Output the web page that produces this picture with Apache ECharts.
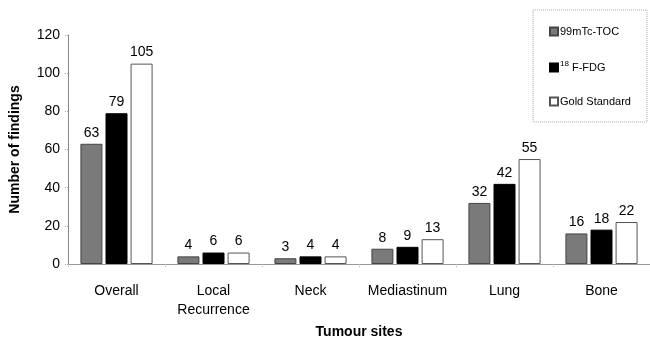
<!DOCTYPE html>
<html><head><meta charset="utf-8">
<script src="https://cdn.jsdelivr.net/npm/echarts@6/dist/echarts.min.js"></script>
<style>html,body{margin:0;padding:0;background:#fff}#c{width:650px;height:344px}</style>
</head><body><div id="c"></div>
<script>
const categories = ['Overall', 'Local\nRecurrence', 'Neck', 'Mediastinum', 'Lung', 'Bone'];
const seriesNames = ['99mTc-TOC', '18F-FDG', 'Gold Standard'];
const tocValues = [63, 4, 3, 8, 32, 16];
const fdgValues = [79, 6, 4, 9, 42, 18];
const goldValues = [105, 6, 4, 13, 55, 22];
const yTicks = [0, 20, 40, 60, 80, 100, 120];

const font = 'Arial, "Liberation Sans", sans-serif';
const chart = echarts.init(document.getElementById('c'), null, {renderer: 'canvas'});
const labelCfg = {show: true, position: 'top', distance: 4, color: '#000', fontSize: 14, fontFamily: font};
chart.setOption({
  animation: false,
  backgroundColor: '#fff',
  grid: {left: 68, top: 35, width: 586, bottom: 80, containLabel: false},
  legend: {
    orient: 'vertical', left: 533, top: 10,
    width: 100,
    padding: [16, 16, 15, 16],
    borderColor: '#aaa', borderWidth: 1, borderType: 'dotted',
    itemWidth: 8, itemHeight: 8, itemGap: 23,
    icon: 'rect',
    data: seriesNames,
    formatter: function (n) { return n === '18F-FDG' ? '{sup|18} {t|F-FDG}' : '{t|' + n + '}'; },
    textStyle: {
      color: '#000', fontFamily: font, fontSize: 11, padding: [0,0,0,-3],
      rich: {
        t: {fontSize: 11, fontFamily: font, color: '#000'},
        sup: {fontSize: 8, fontFamily: font, color: '#000', padding: [0,0,7,0]}
      }
    }
  },
  xAxis: {
    type: 'category', data: categories,
    name: 'Tumour sites', nameLocation: 'middle', nameGap: 61,
    nameTextStyle: {fontSize: 14, fontWeight: 'bold', fontFamily: font, color: '#000'},
    axisLine: {lineStyle: {color: '#999', width: 1}},
    axisTick: {show: true, length: 3, lineStyle: {color: '#aaa', type: 'dotted'}},
    axisLabel: {color: '#000', fontSize: 14, fontFamily: font, margin: 18, lineHeight: 19, interval: 0}
  },
  yAxis: {
    type: 'value', min: yTicks[0], max: yTicks[yTicks.length - 1], interval: 20,
    name: 'Number of findings', nameLocation: 'middle', nameGap: 46, nameRotate: 90,
    nameTextStyle: {fontSize: 14, fontWeight: 'bold', fontFamily: font, color: '#000'},
    axisLine: {show: true, lineStyle: {color: '#888', width: 1}},
    axisTick: {show: true, length: 3, lineStyle: {color: '#aaa', type: 'dotted'}},
    splitLine: {show: false},
    axisLabel: {color: '#000', fontSize: 14, fontFamily: font, margin: 8}
  },
  series: [
    {name: seriesNames[0], type: 'bar', data: tocValues, barWidth: 22, barGap: '14%',
     itemStyle: {color: '#7a7a7a', borderColor: '#444', borderWidth: 1}, label: labelCfg},
    {name: seriesNames[1], type: 'bar', data: fdgValues, barWidth: 22, barGap: '14%',
     itemStyle: {color: '#000', borderColor: '#000', borderWidth: 1}, label: labelCfg},
    {name: seriesNames[2], type: 'bar', data: goldValues, barWidth: 22, barGap: '14%',
     itemStyle: {color: '#fff', borderColor: '#555', borderWidth: 1}, label: labelCfg}
  ]
});
</script></body></html>
